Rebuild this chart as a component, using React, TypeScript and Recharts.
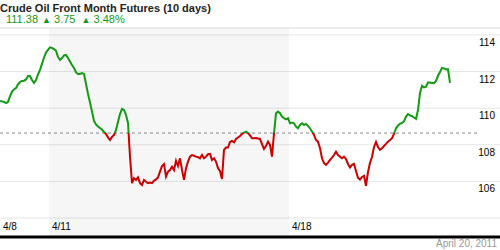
import {
  ComposedChart,
  Line,
  XAxis,
  YAxis,
  CartesianGrid,
  ReferenceLine,
  ReferenceArea,
} from 'recharts'

// crude oil front month, sampled evenly across the 10-day window
const prices = [
  110.39, 110.37, 110.34, 110.28, 110.34, 110.64, 110.91, 111.02, 111.10, 111.30,
  111.43, 111.49, 111.50, 111.57, 111.76, 111.76, 111.54, 111.38, 111.54, 111.84,
  112.09, 112.42, 112.77, 113.04, 113.18, 113.32, 113.29, 113.23, 113.13, 112.80,
  112.63, 112.74, 112.88, 112.91, 112.74, 112.55, 112.36, 112.20, 111.95, 111.87,
  111.87, 111.92, 111.87, 111.32, 110.78, 110.31, 109.82, 109.30, 109.11, 109.00,
  108.92, 108.83, 108.70, 108.59, 108.40, 108.26, 108.43, 108.54, 108.81, 109.26,
  109.68, 109.96, 109.90, 109.63, 109.19, 107.35, 105.90, 106.17, 106.08, 106.22,
  105.90, 105.80, 106.08, 105.98, 105.90, 105.93, 105.90, 106.04, 106.11, 106.22,
  106.53, 106.84, 106.95, 106.26, 106.53, 106.62, 106.80, 106.62, 107.13, 106.84,
  107.26, 106.62, 106.08, 106.72, 107.08, 107.35, 107.44, 107.40, 107.35, 107.32,
  107.26, 107.44, 107.26, 107.35, 107.48, 107.50, 107.17, 107.26, 107.08, 106.72,
  106.57, 106.13, 107.72, 107.85, 107.85, 108.15, 108.21, 108.13, 108.32, 108.40,
  108.48, 108.59, 108.67, 108.72, 108.64, 108.51, 108.36, 108.36, 108.37, 108.34,
  108.32, 108.04, 107.77, 107.93, 108.17, 107.99, 107.35, 108.63, 109.72, 109.81,
  109.72, 109.54, 109.45, 109.39, 109.45, 109.17, 109.21, 109.17, 108.99, 108.90,
  109.08, 109.17, 109.08, 109.14, 109.03, 108.90, 108.72, 108.54, 108.26, 108.17,
  107.81, 107.26, 106.99, 106.90, 107.02, 107.17, 107.30, 107.44, 107.62, 107.44,
  107.35, 107.26, 107.35, 107.22, 106.95, 106.76, 106.90, 106.95, 106.57, 106.19,
  106.10, 106.24, 106.30, 105.75, 106.51, 107.01, 107.33, 107.88, 108.15, 107.88,
  107.72, 107.81, 107.93, 108.05, 108.17, 108.26, 108.36, 108.59, 108.90, 109.05,
  109.14, 109.19, 109.28, 109.54, 109.68, 109.60, 109.56, 109.49, 109.42, 109.90,
  110.83, 111.22, 111.13, 111.17, 111.40, 111.40, 111.38, 111.36, 111.49, 111.77,
  111.98, 112.20, 112.17, 112.11, 112.13, 111.38,
]

const dayLabels = ['4/8', '4/11', '4/18']
const dayStarts = [0, 24.5, 144.5]
const gridTicks = [104, 106, 108, 110, 112, 114]
const labelledTicks = [106, 108, 110, 112, 114]
const baseline = 108.64

const data = prices.map((p, i) => ({ t: i, price: p }))

const hi = Math.max(...prices)
const lo = Math.min(...prices)
const split = (hi - baseline) / (hi - lo)

const GREEN = '#139a13'
const RED = '#cc0000'
const FONT = 'Arial, "Liberation Sans", sans-serif'

const DayTick = (props: any) => {
  const { x, y, payload } = props
  const idx = dayStarts.indexOf(payload.value)
  return (
    <text x={x + 3} y={y - 7} fontSize={10} fontFamily={FONT} fill="#000">
      {dayLabels[idx]}
    </text>
  )
}

const PriceTick = (props: any) => {
  const { y, payload } = props
  if (!labelledTicks.includes(payload.value)) return <g />
  return (
    <text x={495} y={y + 11} textAnchor="end" fontSize={10} fontFamily={FONT} fill="#000">
      {payload.value}
    </text>
  )
}

export default function App() {
  return (
    <div style={{ position: 'absolute', left: 0, top: 0, width: 500, height: 250, background: '#fff', fontFamily: FONT }}>
      <div style={{ position: 'absolute', left: 0, top: 2, fontSize: 11, fontWeight: 'bold', color: '#222', whiteSpace: 'nowrap' }}>
        Crude Oil Front Month Futures (10 days)
      </div>
      <div style={{ position: 'absolute', left: 6, top: 13, fontSize: 11, color: GREEN, whiteSpace: 'nowrap' }}>
        111.38 <span style={{ fontSize: 9, marginLeft: 1 }}>▲</span> 3.75{' '}
        <span style={{ fontSize: 9, marginLeft: 3 }}>▲</span> 3.48%
      </div>
      <div style={{ position: 'absolute', left: 0, top: 0 }}>
        <ComposedChart width={500} height={250} data={data} margin={{ top: 28, right: 0, bottom: 0, left: 0 }}>
          <defs>
            <linearGradient id="oilStroke" x1="0" y1="0" x2="0" y2="1">
              <stop offset={split} stopColor={GREEN} />
              <stop offset={split} stopColor={RED} />
            </linearGradient>
          </defs>
          <ReferenceArea x1={dayStarts[1]} x2={dayStarts[2]} fill="#000" fillOpacity={0.035} stroke="none" />
          <CartesianGrid vertical={false} stroke="#e6e6e6" />
          <ReferenceLine y={114.38} stroke="#e6e6e6" />
          <XAxis
            dataKey="t"
            type="number"
            domain={[0, 250]}
            ticks={dayStarts}
            tick={<DayTick />}
            tickLine={false}
            tickSize={0}
            tickMargin={0}
            height={13}
            axisLine={{ stroke: '#000', strokeWidth: 3 }}
            interval={0}
          />
          <YAxis
            type="number"
            orientation="right"
            mirror
            width={30}
            domain={[102.96, 114.38]}
            ticks={gridTicks}
            tick={<PriceTick />}
            tickLine={false}
            axisLine={false}
            allowDataOverflow
            interval={0}
          />
          <ReferenceLine
            segment={[{ x: 0, y: baseline }, { x: 239, y: baseline }]}
            stroke="#888"
            strokeDasharray="3 3"
          />
          <Line
            dataKey="price"
            type="linear"
            stroke="url(#oilStroke)"
            strokeWidth={2}
            dot={false}
            activeDot={false}
            isAnimationActive={false}
          />
        </ComposedChart>
      </div>
      <div style={{ position: 'absolute', right: 3, top: 238, fontSize: 10, lineHeight: '12px', color: '#999', whiteSpace: 'nowrap' }}>
        April 20, 2011
      </div>
    </div>
  )
}
